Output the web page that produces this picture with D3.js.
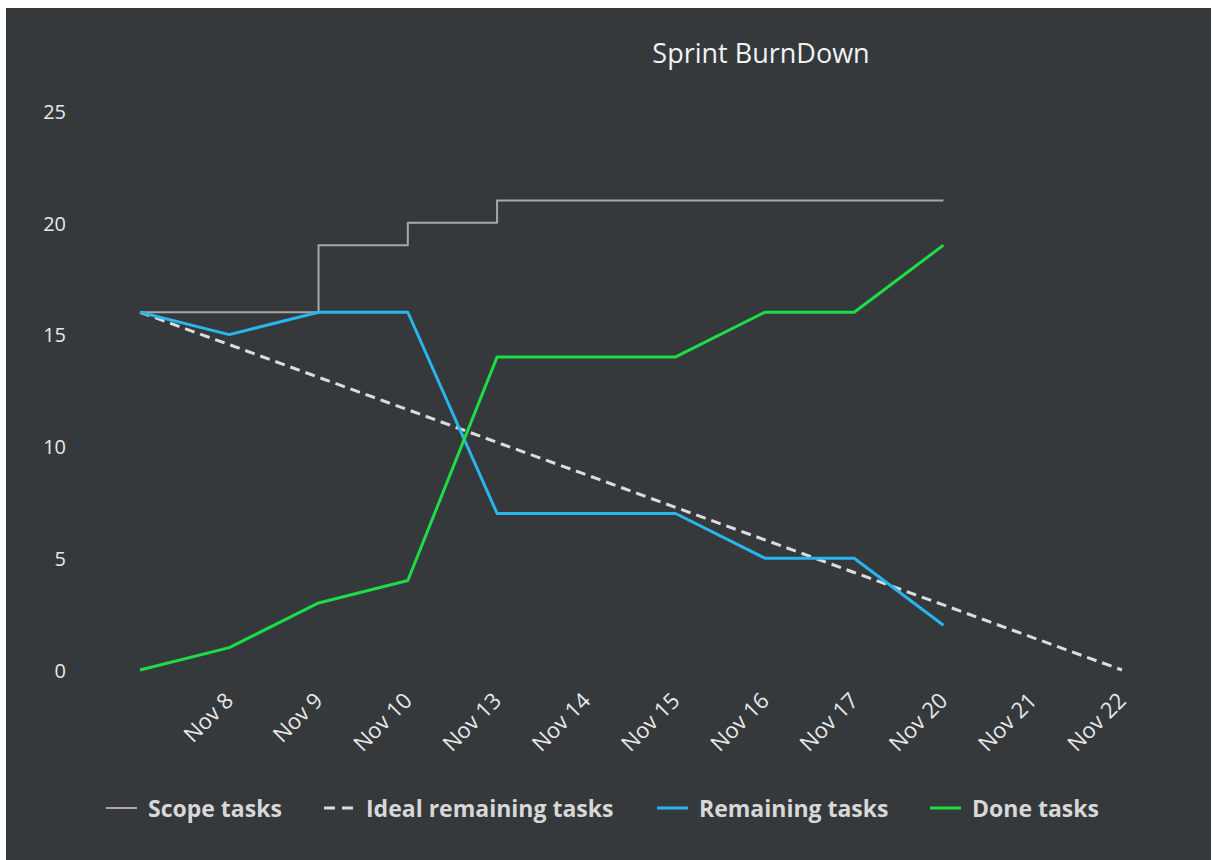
<!DOCTYPE html>
<html>
<head>
<meta charset="utf-8">
<script src="https://cdn.jsdelivr.net/npm/d3@7"></script>
<style>
  body { margin: 0; background: #fff; }
  svg { display: block; }
  text { font-family: "Open Sans", sans-serif; }
</style>
</head>
<body>
<div id="chart"></div>
<script>
// data
const days = ['Nov 7', 'Nov 8', 'Nov 9', 'Nov 10', 'Nov 13', 'Nov 14', 'Nov 15', 'Nov 16', 'Nov 17', 'Nov 20', 'Nov 21', 'Nov 22'];
const dayLabels = ['', 'Nov 8', 'Nov 9', 'Nov 10', 'Nov 13', 'Nov 14', 'Nov 15', 'Nov 16', 'Nov 17', 'Nov 20', 'Nov 21', 'Nov 22'];
const scopeTasks = [16, 16, 19, 20, 21, 21, 21, 21, 21, 21];
const idealTasks = [16, 14.55, 13.09, 11.64, 10.18, 8.73, 7.27, 5.82, 4.36, 2.91, 1.45, 0];
const remainingTasks = [16, 15, 16, 16, 7, 7, 7, 5, 5, 2];
const doneTasks = [0, 1, 3, 4, 14, 14, 14, 16, 16, 19];
const yTicks = [0, 5, 10, 15, 20, 25];

const width = 1213, height = 860;
const bg = '#35393c';

const series = [
  { name: 'Scope tasks', values: scopeTasks, color: '#a8a8a8', width: 2, dash: null, curve: d3.curveStepAfter },
  { name: 'Ideal remaining tasks', values: idealTasks, color: '#dcdcdc', width: 3, dash: '10,6', curve: d3.curveLinear },
  { name: 'Remaining tasks', values: remainingTasks, color: '#2bb5ef', width: 3, dash: null, curve: d3.curveLinear },
  { name: 'Done tasks', values: doneTasks, color: '#1ddd47', width: 3, dash: null, curve: d3.curveLinear }
];

const svg = d3.select('#chart').append('svg')
  .attr('width', width)
  .attr('height', height);

svg.append('rect')
  .attr('x', 6)
  .attr('y', 8)
  .attr('width', 1205)
  .attr('height', height - 8)
  .attr('fill', bg);

svg.append('text')
  .attr('x', 761)
  .attr('y', 63)
  .attr('text-anchor', 'middle')
  .attr('font-size', '27px')
  .attr('fill', '#f2f2f2')
  .text('Sprint BurnDown');

const x = d3.scalePoint()
  .domain(days)
  .range([140, 1122]);
const y = d3.scaleLinear()
  .domain([0, 25])
  .range([670, 111]);

// y axis
const yAxis = d3.axisLeft(y)
  .tickValues(yTicks)
  .tickSize(0)
  .tickPadding(0)
  .tickFormat(d => d);
svg.append('g')
  .attr('transform', 'translate(66, 0)')
  .call(yAxis)
  .call(g => g.select('.domain').remove())
  .selectAll('text')
    .attr('font-size', '20px')
    .attr('font-family', '"Open Sans", sans-serif')
    .attr('fill', '#e8e8e8')
    .attr('dy', '0.36em');

// x axis
const xAxis = d3.axisBottom(x)
  .tickSize(0)
  .tickFormat((d, i) => dayLabels[i]);
svg.append('g')
  .attr('transform', 'translate(0, 686)')
  .call(xAxis)
  .call(g => g.select('.domain').remove())
  .selectAll('text')
    .attr('font-size', '22px')
    .attr('font-family', '"Open Sans", sans-serif')
    .attr('fill', '#e8e8e8')
    .attr('text-anchor', 'end')
    .attr('dy', 0)
    .attr('y', 0)
    .attr('transform', 'translate(5, 16) rotate(-45)');

// lines
const plot = svg.append('g');
series.forEach(s => {
  const line = d3.line()
    .x((d, i) => x(days[i]))
    .y(d => y(d))
    .curve(s.curve);
  plot.append('path')
    .datum(s.values)
    .attr('d', line)
    .attr('fill', 'none')
    .attr('stroke', s.color)
    .attr('stroke-width', s.width)
    .attr('stroke-dasharray', s.dash)
    .attr('stroke-linejoin', 'round');
});

// legend
const legendX = [106, 324, 657, 930];
const legend = svg.append('g');
series.forEach((s, i) => {
  const item = legend.append('g')
    .attr('transform', `translate(${legendX[i]}, 808)`);
  item.append('line')
    .attr('x1', 0)
    .attr('x2', 31)
    .attr('y1', 0)
    .attr('y2', 0)
    .attr('stroke', s.color)
    .attr('stroke-width', s.width)
    .attr('stroke-dasharray', s.dash ? '11,7' : null);
  item.append('text')
    .attr('x', 42)
    .attr('y', 9)
    .attr('font-size', '23px')
    .attr('font-weight', 700)
    .attr('fill', '#d8d8d8')
    .text(s.name);
});
</script>
</body>
</html>
